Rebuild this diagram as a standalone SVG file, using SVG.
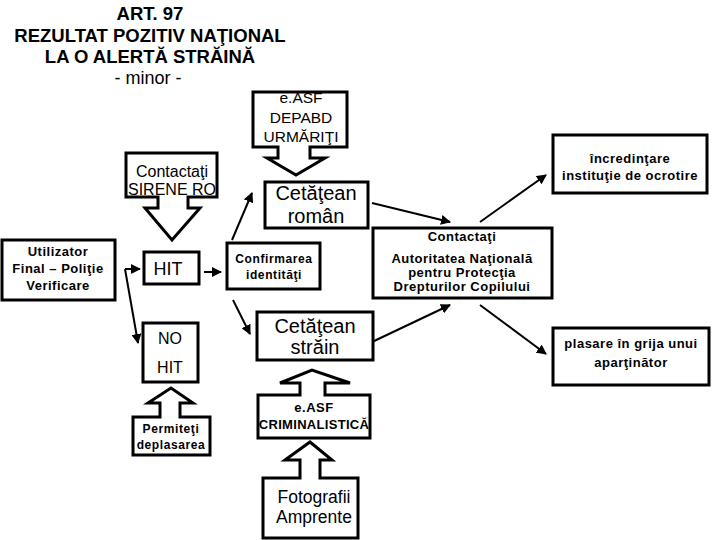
<svg xmlns="http://www.w3.org/2000/svg" width="720" height="540" viewBox="0 0 720 540">
<defs>
<style>
text{font-family:"Liberation Sans",Arial,sans-serif;fill:#000;text-anchor:middle}
.t{font-weight:bold;font-size:18.5px}
.b12{font-weight:bold;font-size:12px;letter-spacing:0.6px}
.b13{font-weight:bold;font-size:13px;letter-spacing:0.5px}
.r20{font-size:20px}
.r18{font-size:18px}
.r16{font-size:16px}
.r17{font-size:17.5px}
.r15{font-size:15.5px}
.box{fill:#fff;stroke:#000;stroke-width:3}
.c{fill:none;stroke:#000;stroke-width:2}
</style>
<marker id="ah" viewBox="0 0 10 10" refX="9" refY="5" markerWidth="10" markerHeight="10" markerUnits="userSpaceOnUse" orient="auto">
<path d="M0,0 L10,5 L0,10 z" fill="#000"/>
</marker>
</defs>
<rect width="720" height="540" fill="#fff"/>
<g id="title">
<text class="t" x="150" y="20">ART. 97</text>
<text class="t" x="150" y="42">REZULTAT POZITIV NAŢIONAL</text>
<text class="t" x="150" y="63">LA O ALERTĂ STRĂINĂ</text>
<text class="r18" x="148" y="84">- minor -</text>
</g>
<g id="connectors">
<line class="c" x1="125" y1="269" x2="140" y2="269" marker-end="url(#ah)"/>
<line class="c" x1="125" y1="269" x2="138" y2="343" marker-end="url(#ah)"/>
<line class="c" x1="204" y1="272" x2="221" y2="272" marker-end="url(#ah)"/>
<line class="c" x1="232" y1="240" x2="252" y2="193" marker-end="url(#ah)"/>
<line class="c" x1="233" y1="300" x2="250" y2="334" marker-end="url(#ah)"/>
<line class="c" x1="372" y1="203" x2="450" y2="222" marker-end="url(#ah)"/>
<line class="c" x1="480" y1="222" x2="546" y2="175" marker-end="url(#ah)"/>
<line class="c" x1="372" y1="342" x2="450" y2="305" marker-end="url(#ah)"/>
<line class="c" x1="480" y1="305" x2="546" y2="354" marker-end="url(#ah)"/>
</g>
<g id="easf-depabd">
<path class="box" d="M253,92 H347 V147 H310 V158 H325 L296,175 L267,158 H278 V147 H253 Z"/>
<text class="r15" x="301" y="103">e.ASF</text>
<text class="r15" x="301" y="123">DEPABD</text>
<text class="r15" x="301" y="142">URMĂRIŢI</text>
</g>
<g id="sirene">
<path class="box" d="M126,153 H217 V197 H188 V208 H200 L172,240 L145,208 H158 V197 H126 Z"/>
<text class="r16" x="172" y="177">Contactaţi</text>
<text class="r16" x="172" y="195">SIRENE RO</text>
</g>
<g id="cetatean-roman">
<rect class="box" x="265" y="182" width="103" height="46"/>
<text class="r20" x="316" y="200">Cetăţean</text>
<text class="r20" x="316" y="223">român</text>
</g>
<g id="utilizator">
<rect class="box" x="2" y="240" width="113" height="60"/>
<text class="b13" x="58" y="256">Utilizator</text>
<text class="b13" x="58" y="273">Final – Poliţie</text>
<text class="b13" x="58" y="290">Verificare</text>
</g>
<g id="hit">
<rect class="box" x="144" y="252" width="55" height="32"/>
<text class="r18" x="168" y="275">HIT</text>
</g>
<g id="confirmarea">
<rect class="box" x="227" y="243" width="93" height="46"/>
<text class="b12" x="274" y="263">Confirmarea</text>
<text class="b12" x="274" y="279">identităţi</text>
</g>
<g id="cetatean-strain">
<rect class="box" x="257" y="312" width="116" height="48"/>
<text class="r20" x="315" y="333">Cetăţean</text>
<text class="r20" x="315" y="354">străin</text>
</g>
<g id="anpdc">
<rect class="box" x="373" y="228" width="179" height="70"/>
<text class="b13" x="462" y="241">Contactaţi</text>
<text class="b13" x="462" y="263">Autoritatea Naţională</text>
<text class="b13" x="462" y="277">pentru Protecţia</text>
<text class="b13" x="462" y="291">Drepturilor Copilului</text>
</g>
<g id="incredintare">
<rect class="box" x="553" y="135" width="154" height="58"/>
<text class="b13" x="630" y="163">încredinţare</text>
<text class="b13" x="630" y="180">instituţie de ocrotire</text>
</g>
<g id="plasare">
<rect class="box" x="553" y="328" width="156" height="57"/>
<text class="b13" x="631" y="348">plasare în grija unui</text>
<text class="b13" x="631" y="367">aparţinător</text>
</g>
<g id="no-hit">
<rect class="box" x="143" y="323" width="55" height="59"/>
<text class="r16" x="170" y="344">NO</text>
<text class="r16" x="170" y="373">HIT</text>
</g>
<g id="permiteti">
<path class="box" d="M133,455 V417 H160 V403 H148 L171,388 L193,403 H180 V417 H210 V455 Z"/>
<text class="b12" x="171" y="433">Permiteţi</text>
<text class="b12" x="171" y="449">deplasarea</text>
</g>
<g id="easf-criminalistica">
<path class="box" d="M258,438 V395 H300 V383 H280 L312,370 L350,383 H325 V395 H370 V438 Z"/>
<text class="b13" x="314" y="412">e.ASF</text>
<text class="b13" x="314" y="429" style="letter-spacing:0.3px">CRIMINALISTICĂ</text>
</g>
<g id="fotografii">
<path class="box" d="M263,538 V478 H300 V460 H285 L310,442 L332,460 H320 V478 H358 V538 Z"/>
<text class="r17" x="314" y="503">Fotografii</text>
<text class="r17" x="314" y="523">Amprente</text>
</g>
</svg>
